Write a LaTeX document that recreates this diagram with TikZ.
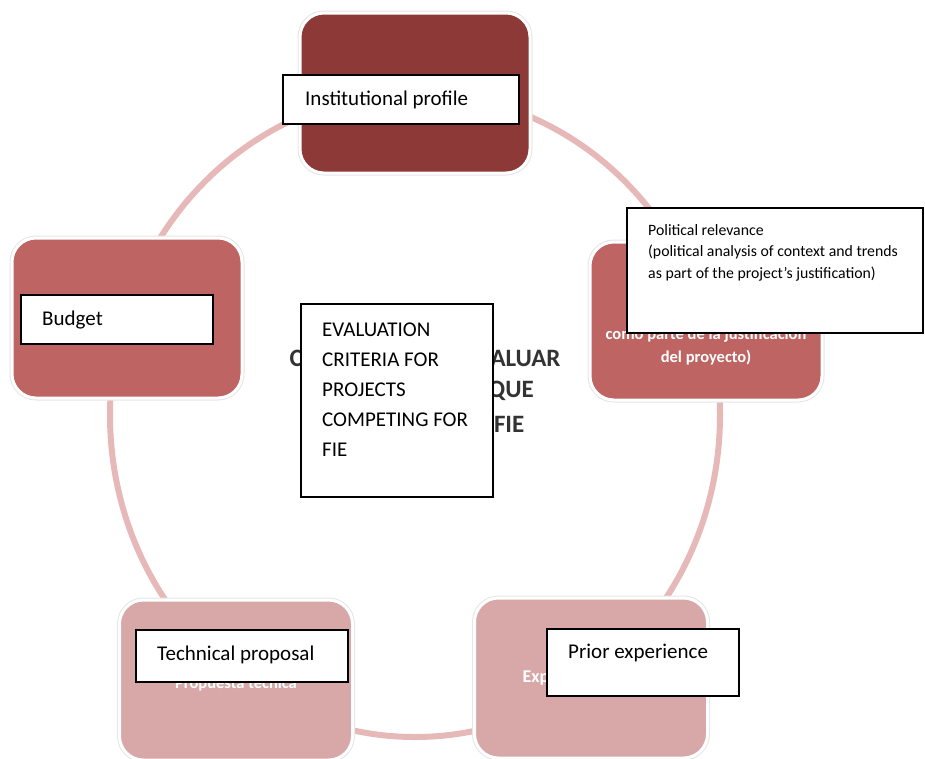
\documentclass[tikz,border=0pt]{standalone}
\usepackage{fontspec}
\setmainfont{Carlito}
\usepackage{xcolor}
\usetikzlibrary{positioning}
\definecolor{darkbox}{HTML}{8C3937}
\definecolor{midbox}{HTML}{BE6462}
\definecolor{lightbox}{HTML}{D7A8A7}
\definecolor{ringpink}{HTML}{E6B9B8}
\colorlet{titlegray}{black!80}
\tikzstyle{ring}=[ringpink, line width=6]
\tikzstyle{cbox}=[rounded corners=24, preaction={draw=black!10, line width=5}, draw=white, line width=3, inner sep=0]
\tikzstyle{white txt}=[white, font=\bfseries\fontsize{16.5}{20}\selectfont, inner sep=0]
\tikzstyle{title txt}=[titlegray, font=\bfseries\fontsize{25}{30}\selectfont, inner sep=0]
\tikzstyle{lbl box}=[draw=black, fill=white, line width=1.6, inner sep=0]
\tikzstyle{lbl txt}=[black, anchor=west, font=\fontsize{21}{26}\selectfont, inner sep=0]
\tikzstyle{small txt}=[black, anchor=west, font=\fontsize{15.8}{19}\selectfont, inner sep=0]

\begin{document}
\begin{tikzpicture}[x=1pt, y=-1pt]
      \useasboundingbox (0,0) rectangle (925,758);

      % RING
      \draw[ring] (415,415) ellipse [x radius=305pt, y radius=322pt];

      % COLOURED BOXES
      \node[cbox, fill=darkbox, minimum width=230, minimum height=160] (inst) at (415,93) {};
      \node[cbox, fill=midbox, minimum width=232, minimum height=158] (pol) at (706,321) {};
      \node[cbox, fill=midbox, minimum width=230, minimum height=160] (bud) at (127,318) {};
      \node[cbox, fill=lightbox, minimum width=233, minimum height=160] (tec) at (236,680) {};
      \node[cbox, fill=lightbox, minimum width=233, minimum height=160] (exp) at (591,678) {};

      % TEXT UNDER THE LABELS
      \node[white txt, font=\bfseries\fontsize{20}{24}\selectfont] (pol-1) at (706,266) {Pertinencia política};
      \foreach \t [count=\i from 2] in {{(análisis político del}, {contexto y tendencias},
                                        {como parte de la justificación}, {del proyecto)}}{
        \node[white txt] (pol-\i) at (706, 243+23*\i) {\t};
      }
      \node[white txt] (tec-es) at (236,684) {Propuesta técnica};
      \node[white txt, font=\bfseries\fontsize{18}{22}\selectfont] (exp-es) at (591,678) {Experiencia previa};
      \foreach \t [count=\i] in {CRITERIOS PARA EVALUAR, LOS PROYECTOS QUE, COMPITEN POR FIE}{
        \node[title txt] (title-\i) at (425, 325+33*\i) {\t};
      }

      % LABEL BOXES
      \node[lbl box, minimum width=236, minimum height=49] (inst-lbl) at (401,99.5) {};
      \node[lbl box, minimum width=296, minimum height=125] (pol-lbl) at (775,270.5) {};
      \node[lbl box, minimum width=192, minimum height=49] (bud-lbl) at (117,319.5) {};
      \node[lbl box, minimum width=192, minimum height=193] (crit-lbl) at (397,400.5) {};
      \node[lbl box, minimum width=212, minimum height=52] (tec-lbl) at (242,656) {};
      \node[lbl box, minimum width=192, minimum height=67] (exp-lbl) at (643,662.5) {};

      % LABEL TEXTS
      \node[lbl txt] (inst-txt) at (305,100) {Institutional profile};
      \node[lbl txt] (bud-txt) at (42,320) {Budget};
      \node[lbl txt] (tec-txt) at (157,655) {Technical proposal};
      \node[lbl txt] (exp-txt) at (568,653) {Prior experience};
      \foreach \t [count=\i] in {EVALUATION, CRITERIA FOR, PROJECTS, COMPETING FOR, FIE}{
        \node[lbl txt] (crit-\i) at (322, 300+30*\i) {\t};
      }
      \foreach \t [count=\i] in {{Political relevance}, {(political analysis of context and trends},
                                 {as part of the project’s justification)}}{
        \node[small txt] (pol-txt-\i) at (648, 208+22*\i) {\t};
      }
\end{tikzpicture}
\end{document}
